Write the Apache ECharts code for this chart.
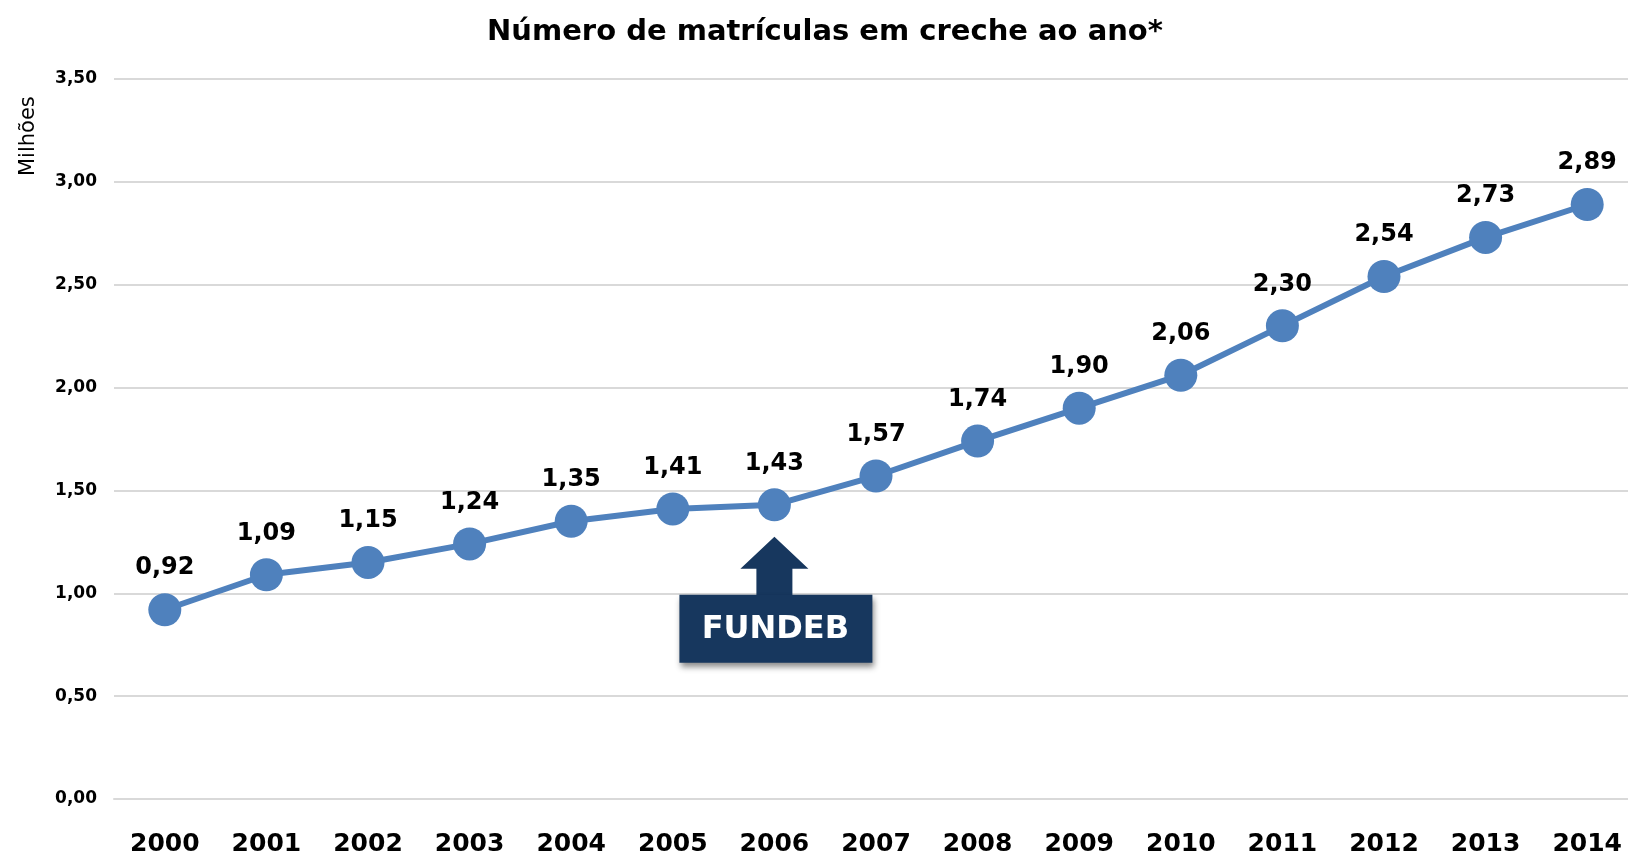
<!DOCTYPE html>
<html>
<head>
<meta charset="utf-8">
<script src="https://cdn.jsdelivr.net/npm/echarts@6/dist/echarts.min.js"></script>
<style>
  html, body { margin: 0; padding: 0; background: #fff; overflow: hidden; }
  #chart { width: 1650px; height: 857px; }
</style>
</head>
<body>
<div id="chart"></div>
<script>
// dados (milhões de matrículas)
const anos = ['2000', '2001', '2002', '2003', '2004', '2005', '2006', '2007', '2008', '2009', '2010', '2011', '2012', '2013', '2014']
const matriculas = [0.92, 1.09, 1.15, 1.24, 1.35, 1.41, 1.43, 1.57, 1.74, 1.90, 2.06, 2.30, 2.54, 2.73, 2.89]
const anoFundeb = '2006'

const fonte = 'DejaVu Sans'
const fmt = v => v.toFixed(2).replace('.', ',')

const chart = echarts.init(document.getElementById('chart'))

chart.setOption({
  animation: false,
  title: {
    text: 'Número de matrículas em creche ao ano*',
    left: 'center',
    top: 13,
    textStyle: { fontFamily: fonte, fontWeight: 'bold', fontSize: 29, color: '#000' }
  },
  // o container é mais largo que a janela: a última faixa de categoria passa da borda
  grid: { left: 114, right: 12, top: 79, bottom: 58 },
  xAxis: {
    type: 'category',
    data: anos,
    axisTick: { show: false },
    axisLine: { lineStyle: { color: '#d9d9d9', width: 2 } },
    axisLabel: { color: '#000', fontFamily: fonte, fontWeight: 'bold', fontSize: 25, margin: 33 }
  },
  yAxis: {
    type: 'value',
    min: 0,
    max: 3.5,
    interval: 0.5,
    axisLabel: { color: '#000', fontFamily: fonte, fontWeight: 'bold', fontSize: 17, margin: 17, formatter: fmt },
    splitLine: { lineStyle: { color: '#d9d9d9', width: 2 } }
  },
  series: [{
    type: 'line',
    data: matriculas,
    symbol: 'circle',
    symbolSize: 33,
    lineStyle: { color: '#4f81bd', width: 6 },
    itemStyle: { color: '#4f81bd' },
    label: {
      show: true,
      position: 'top',
      distance: 13,
      color: '#000',
      fontFamily: fonte,
      fontWeight: 'bold',
      fontSize: 24,
      formatter: p => fmt(p.value)
    }
  }]
})

// seta e caixa FUNDEB ancoradas no ponto de 2006
const [px, py] = chart.convertToPixel({ gridIndex: 0 }, [anoFundeb, matriculas[anos.indexOf(anoFundeb)]])
chart.setOption({
  graphic: [
    {
      type: 'text',
      rotation: Math.PI / 2,
      x: 18, y: 176,
      style: { text: 'Milhões', fontFamily: fonte, fontSize: 21, fill: '#000' }
    },
    {
      type: 'polygon',
      shape: {
        points: [
          [px, py + 32], [px + 34, py + 64], [px + 18, py + 64], [px + 18, py + 92],
          [px - 18, py + 92], [px - 18, py + 64], [px - 34, py + 64]
        ]
      },
      style: { fill: '#17375e' }
    },
    {
      type: 'rect',
      shape: { x: px - 95, y: py + 90, width: 193, height: 68 },
      style: { fill: '#17375e', shadowBlur: 6, shadowOffsetX: 2, shadowOffsetY: 4, shadowColor: 'rgba(0,0,0,0.45)' }
    },
    {
      type: 'text',
      x: px + 1,
      y: py + 125,
      style: {
        text: 'FUNDEB', fontFamily: fonte, fontWeight: 'bold', fontSize: 32, fill: '#fff',
        align: 'center', verticalAlign: 'middle'
      }
    }
  ]
})
</script>
</body>
</html>
